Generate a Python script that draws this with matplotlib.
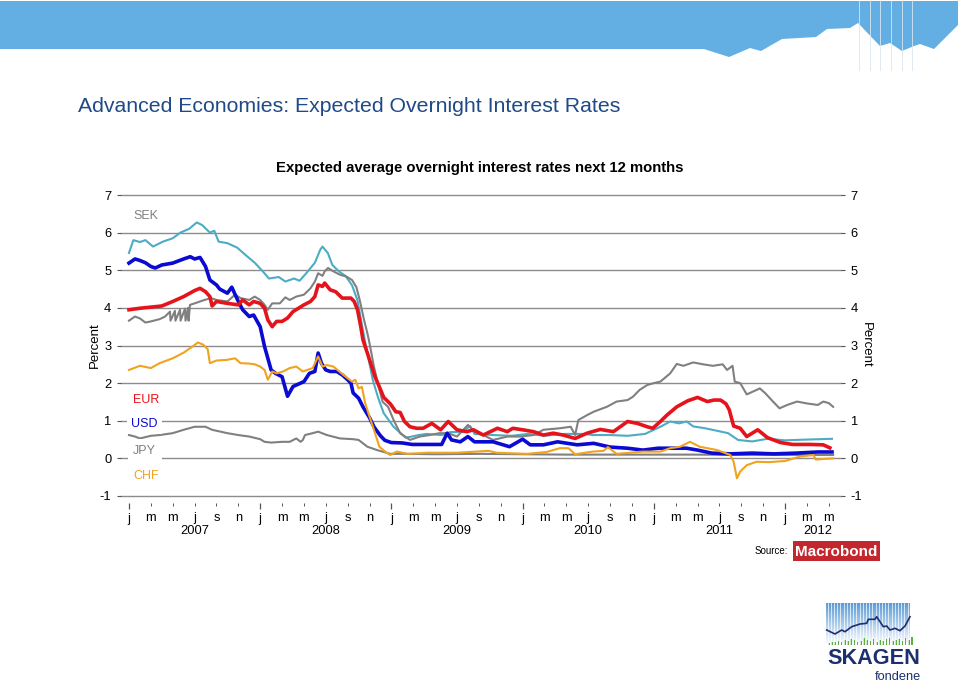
import numpy as np
import matplotlib
import matplotlib.pyplot as plt
from matplotlib.patches import Polygon, Rectangle
from matplotlib.colors import LinearSegmentedColormap

plt.rcParams['font.family'] = ['Liberation Sans', 'DejaVu Sans']
plt.rcParams['axes.unicode_minus'] = False

# x values are months since Jan 2007
sek_m = [0, 0.55, 1.0, 1.5, 2.0, 2.8, 3.3, 3.75, 3.8, 4.2, 4.25, 4.67, 4.72, 5.12, 5.17, 5.4, 5.45,
         5.58, 6.0, 6.9, 7.5, 8.0, 9.0, 9.7, 10.2, 11.0, 11.5, 12.0, 12.4, 12.7, 13.1, 13.8, 14.3,
         14.7, 15.3, 16.0, 16.6, 17.0, 17.3, 17.7, 17.9, 18.2, 18.7, 19.3, 19.9, 20.4, 20.8, 21.1,
         21.5, 21.8, 22.0, 22.4, 22.8, 23.2, 23.7, 24.2, 24.8, 25.7, 26.6, 27.5, 28.4, 29.2, 30.0,
         31.0, 31.6, 32.4, 33.3, 34.6, 35.8, 37.0, 37.9, 39.4, 40.4, 40.8, 41.1, 41.9, 42.5, 43.7,
         44.6, 45.6, 46.1, 46.7, 47.4, 48.0, 48.6, 49.5, 50.1, 50.7, 51.6, 52.5, 53.4, 54.3, 54.7,
         55.2, 55.4, 55.9, 56.5, 57.1, 57.7, 58.2, 58.9, 59.5, 60.2, 61.1, 62.0, 63.0, 63.5, 64.0, 64.4]
sek_v = [3.66, 3.77, 3.72, 3.61, 3.64, 3.70, 3.77, 3.90, 3.66, 3.92, 3.66, 3.95, 3.66, 3.98, 3.66,
         4.00, 3.66, 4.08, 4.12, 4.21, 4.26, 4.21, 4.17, 4.35, 4.26, 4.21, 4.30, 4.21, 4.08, 3.95,
         4.12, 4.12, 4.28, 4.21, 4.30, 4.35, 4.52, 4.70, 4.92, 4.85, 4.97, 5.06, 4.97, 4.88, 4.83,
         4.74, 4.55, 4.21, 3.68, 3.33, 3.06, 2.44, 1.95, 1.50, 1.37, 1.02, 0.67, 0.49, 0.58, 0.62,
         0.67, 0.67, 0.58, 0.89, 0.71, 0.62, 0.49, 0.58, 0.58, 0.62, 0.76, 0.80, 0.84, 0.62, 1.02,
         1.15, 1.24, 1.37, 1.51, 1.55, 1.64, 1.82, 1.95, 2.00, 2.04, 2.26, 2.51, 2.46, 2.55, 2.50,
         2.46, 2.50, 2.35, 2.46, 2.04, 2.00, 1.70, 1.78, 1.86, 1.73, 1.51, 1.33, 1.42, 1.51, 1.46,
         1.42, 1.51, 1.47, 1.37]

gbp_m = [0, 0.4, 1.0, 1.5, 2.2, 3.1, 4.0, 4.7, 5.5, 6.2, 6.7, 7.4, 7.8, 8.2, 9.0, 9.9, 10.8, 11.5,
         12.3, 12.8, 13.7, 14.3, 15.1, 15.6, 16.3, 17.0, 17.5, 17.7, 18.2, 18.6, 19.2, 19.8, 20.4,
         20.9, 21.4, 21.8, 22.3, 22.8, 23.3, 23.8, 24.2, 25.3, 25.7, 26.5, 27.2, 28.6, 29.4, 30.5,
         31.2, 31.6, 33.3, 35.0, 36.5, 38.0, 39.8, 41.7, 42.4, 44.0, 45.6, 47.2, 48.6, 49.5, 50.3,
         51.0, 51.6, 52.7, 54.0, 54.8, 55.7, 57.0, 58.4, 60.0, 62.0, 64.3]
gbp_v = [5.46, 5.80, 5.75, 5.80, 5.63, 5.76, 5.85, 6.00, 6.10, 6.27, 6.20, 6.00, 6.05, 5.76, 5.72,
         5.60, 5.37, 5.20, 4.95, 4.78, 4.82, 4.70, 4.78, 4.72, 4.95, 5.20, 5.55, 5.63, 5.45, 5.14,
         4.97, 4.85, 4.60, 4.20, 3.40, 2.80, 2.08, 1.60, 1.20, 1.00, 0.84, 0.55, 0.57, 0.62, 0.65,
         0.62, 0.70, 0.70, 0.86, 0.65, 0.62, 0.60, 0.65, 0.60, 0.65, 0.65, 0.62, 0.62, 0.60, 0.65,
         0.84, 0.98, 0.93, 0.98, 0.85, 0.80, 0.72, 0.67, 0.49, 0.45, 0.52, 0.48, 0.50, 0.52]

jpy_m = [0, 0.55, 1.0, 2.0, 2.8, 4.0, 5.0, 6.0, 7.0, 7.6, 9.0, 10.0, 11.0, 12.0, 12.4, 13.0, 14.0,
         14.7, 15.3, 15.7, 15.9, 16.1, 16.8, 17.3, 18.1, 19.3, 20.5, 21.0, 21.8, 22.7, 23.9, 25.4,
         28.0, 32.0, 36.0, 40.0, 44.0, 48.0, 52.0, 56.0, 60.0, 64.4]
jpy_v = [0.62, 0.58, 0.53, 0.60, 0.62, 0.67, 0.76, 0.84, 0.84, 0.76, 0.67, 0.62, 0.58, 0.51, 0.44,
         0.42, 0.44, 0.44, 0.53, 0.44, 0.49, 0.62, 0.67, 0.71, 0.62, 0.53, 0.51, 0.49, 0.31, 0.22,
         0.12, 0.12, 0.11, 0.12, 0.11, 0.10, 0.10, 0.10, 0.10, 0.09, 0.09, 0.09]

usd_m = [0, 0.55, 1.0, 1.5, 2.0, 2.4, 3.0, 4.0, 5.0, 5.6, 6.0, 6.5, 7.0, 7.4, 8.0, 8.3, 9.0, 9.4,
         10.0, 10.4, 11.0, 11.4, 12.0, 12.4, 13.0, 13.4, 14.0, 14.5, 15.0, 16.0, 16.5, 17.0, 17.3,
         17.6, 18.0, 18.4, 19.0, 19.5, 20.0, 20.3, 20.5, 21.0, 21.4, 22.0, 22.4, 23.0, 23.4, 24.0,
         25.0, 25.9, 27.4, 28.6, 29.1, 29.5, 30.3, 31.0, 31.6, 33.3, 34.8, 36.0, 36.7, 37.9, 39.2,
         40.1, 41.0, 42.5, 44.0, 45.6, 47.0, 48.4, 49.0, 51.0, 52.0, 53.3, 55.0, 57.0, 59.0, 61.0,
         63.0, 64.3]
usd_v = [5.19, 5.30, 5.26, 5.20, 5.10, 5.06, 5.14, 5.19, 5.30, 5.36, 5.30, 5.34, 5.10, 4.74, 4.61,
         4.50, 4.39, 4.55, 4.17, 3.95, 3.77, 3.81, 3.50, 2.97, 2.35, 2.26, 2.17, 1.65, 1.91, 2.04,
         2.26, 2.31, 2.80, 2.53, 2.35, 2.31, 2.31, 2.22, 2.09, 2.00, 1.74, 1.60, 1.37, 1.08, 0.84,
         0.60, 0.48, 0.42, 0.41, 0.37, 0.37, 0.37, 0.67, 0.49, 0.44, 0.58, 0.44, 0.44, 0.31, 0.51,
         0.36, 0.36, 0.44, 0.40, 0.36, 0.40, 0.30, 0.27, 0.22, 0.27, 0.27, 0.27, 0.22, 0.14, 0.12,
         0.14, 0.12, 0.14, 0.17, 0.17]

chf_m = [0, 1.0, 2.0, 2.8, 4.0, 5.0, 5.8, 6.3, 6.8, 7.2, 7.4, 8.0, 9.0, 9.7, 10.2, 11.0, 11.5, 12.0,
         12.4, 12.7, 13.1, 13.5, 14.1, 14.7, 15.3, 15.9, 16.8, 17.3, 17.7, 18.1, 18.7, 19.6, 20.4,
         20.7, 21.0, 21.3, 21.6, 22.0, 22.5, 22.9, 23.6, 23.9, 24.5, 25.5, 27.3, 30.0, 32.9, 33.6,
         36.4, 38.2, 39.4, 40.2, 40.8, 42.4, 43.4, 43.8, 44.6, 47.0, 48.6, 49.5, 50.4, 51.3, 52.2,
         53.8, 55.0, 55.3, 55.6, 55.9, 56.5, 57.4, 58.5, 60.0, 61.4, 62.6, 62.8, 64.4]
chf_v = [2.35, 2.46, 2.40, 2.53, 2.66, 2.81, 2.97, 3.08, 3.02, 2.90, 2.53, 2.60, 2.62, 2.66, 2.53,
         2.52, 2.50, 2.44, 2.35, 2.09, 2.31, 2.26, 2.31, 2.40, 2.44, 2.31, 2.40, 2.71, 2.44, 2.48,
         2.44, 2.22, 2.04, 2.09, 1.86, 1.90, 1.47, 1.11, 0.67, 0.31, 0.14, 0.09, 0.18, 0.12, 0.15,
         0.15, 0.20, 0.15, 0.12, 0.17, 0.27, 0.27, 0.11, 0.18, 0.20, 0.30, 0.12, 0.18, 0.18, 0.27,
         0.31, 0.44, 0.31, 0.22, 0.09, -0.09, -0.53, -0.35, -0.18, -0.09, -0.10, -0.07, 0.05, 0.09,
         -0.03, 0.00]

eur_m = [0, 1.0, 2.0, 3.0, 4.0, 5.0, 6.0, 6.5, 7.0, 7.4, 7.6, 8.0, 9.0, 10.0, 10.4, 11.0, 11.4,
         12.0, 12.4, 12.7, 13.1, 13.5, 14.0, 14.5, 15.0, 16.0, 16.6, 17.0, 17.3, 17.7, 17.9, 18.4,
         18.9, 19.5, 20.3, 20.6, 20.9, 21.2, 21.4, 21.8, 22.1, 22.5, 22.9, 23.3, 23.9, 24.4, 24.8,
         25.2, 25.7, 26.3, 26.9, 27.7, 28.5, 29.2, 30.0, 30.9, 31.5, 32.4, 33.7, 34.6, 35.1, 36.0,
         37.0, 37.9, 38.8, 39.7, 40.8, 41.9, 43.1, 44.3, 45.6, 46.5, 47.4, 47.9, 48.6, 49.2, 50.1,
         51.1, 52.0, 52.9, 53.5, 54.1, 54.6, 54.9, 55.3, 55.9, 56.5, 57.5, 58.4, 59.6, 60.7, 62.3,
         63.5, 64.1]
eur_v = [3.95, 3.99, 4.02, 4.05, 4.17, 4.30, 4.46, 4.52, 4.43, 4.30, 4.05, 4.17, 4.12, 4.08, 4.21,
         4.08, 4.17, 4.12, 3.99, 3.68, 3.50, 3.64, 3.64, 3.73, 3.90, 4.08, 4.17, 4.30, 4.61, 4.57,
         4.66, 4.48, 4.43, 4.26, 4.26, 4.17, 3.95, 3.50, 3.15, 2.80, 2.53, 2.17, 1.90, 1.62, 1.45,
         1.24, 1.22, 0.98, 0.84, 0.80, 0.80, 0.93, 0.76, 0.98, 0.76, 0.71, 0.76, 0.62, 0.80, 0.71,
         0.80, 0.76, 0.71, 0.62, 0.67, 0.62, 0.53, 0.67, 0.77, 0.71, 0.98, 0.93, 0.84, 0.80, 0.98,
         1.15, 1.37, 1.53, 1.62, 1.51, 1.55, 1.55, 1.45, 1.29, 0.86, 0.80, 0.58, 0.76, 0.55, 0.42,
         0.37, 0.37, 0.36, 0.28]

month_letters = ['j', 'm', 'm', 'j', 's', 'n']
years = ['2007', '2008', '2009', '2010', '2011', '2012']
year_centre_m = [6, 18, 30, 42, 54, 63]

W, H = 960, 686
fig = plt.figure(figsize=(W / 100, H / 100), dpi=100)

# background: banner, titles, source box
bg = fig.add_axes([0, 0, 1, 1])
bg.set_xlim(0, W)
bg.set_ylim(H, 0)
bg.axis('off')
banner = [(0, 1), (958, 1), (958, 25), (934, 49), (920, 44), (914, 46), (902, 51), (890, 43),
          (880, 46), (858, 23), (850, 28), (827, 29), (816, 37), (782, 39), (761, 51), (750, 48),
          (729, 57), (704, 49), (0, 49)]
bg.add_patch(Polygon(banner, closed=True, facecolor='#63AEE2', edgecolor='none'))
for xv in [859, 870, 880, 891, 902, 912]:
    bg.plot([xv, xv], [1, 70], color='#D8E6F2', lw=0.6)

bg.text(78, 106, 'Advanced Economies: Expected Overnight Interest Rates', fontsize=15.3,
        color='#1F4A87', ha='left', va='center')
bg.text(480, 168, 'Expected average overnight interest rates next 12 months', fontsize=10.7,
        fontweight='bold', ha='center', va='center')
bg.text(95, 345, 'Percent', fontsize=9.5, rotation=90, ha='center', va='center')
bg.text(866, 345, 'Percent', fontsize=9.5, rotation=270, ha='center', va='center')
bg.text(788, 551, 'Source:', fontsize=7, ha='right', va='center')
bg.add_patch(Rectangle((793, 541), 87, 20, facecolor='#C1272D', edgecolor='none'))
bg.text(836.5, 551.5, 'Macrobond', fontsize=11, fontweight='bold', color='white',
        ha='center', va='center')

# main chart
ax = fig.add_axes([121 / W, 1 - 496 / H, 720 / W, 301 / H])
ax.plot(gbp_m, gbp_v, color='#4DACC4', lw=1.5, zorder=3)
ax.plot(sek_m, sek_v, color='#808080', lw=1.5, zorder=4)
ax.plot(jpy_m, jpy_v, color='#808080', lw=1.5, zorder=4)
ax.plot(usd_m, usd_v, color='#0A0AD2', lw=2.6, zorder=5)
ax.plot(chf_m, chf_v, color='#F0A31E', lw=1.5, zorder=6)
ax.plot(eur_m, eur_v, color='#E5141C', lw=2.6, zorder=7)

ax.set_xlim(-0.73, 65.12)
ax.set_ylim(-1, 7)
ax.set_yticks(range(-1, 8))
ax.yaxis.grid(True, color='#8C8C8C', lw=1.0)
for gl in ax.get_ygridlines():
    gl.set_clip_on(False)
ax.set_axisbelow(True)
for s in ax.spines.values():
    s.set_visible(False)
ax.spines['bottom'].set_position(('outward', 5))
ax.tick_params(axis='y', left=True, right=True, labelleft=True, labelright=True,
               length=3, width=0.8, color='#555555', labelsize=9.3, pad=4)

major = [m for m in range(0, 65, 12)]
minor = [m for m in range(0, 65, 2) if m % 12 != 0]
ax.set_xticks(major)
ax.set_xticklabels(['j'] * len(major))
ax.set_xticks(minor, minor=True)
ax.set_xticklabels([month_letters[(m % 12) // 2] for m in minor], minor=True)
ax.tick_params(axis='x', which='major', length=4, width=0.9, color='#555555', labelsize=9.3, pad=3)
ax.tick_params(axis='x', which='minor', length=2, width=0.7, color='#555555', labelsize=9.3, pad=4.5)

for yr, m in zip(years, year_centre_m):
    ax.text(m, -0.115, yr, transform=ax.get_xaxis_transform(), fontsize=9.3,
            ha='center', va='center')

label_box = dict(facecolor='white', edgecolor='none', pad=1.5)
ax.text(0.37, 6.45, 'SEK', color='#808080', fontsize=9, va='center', bbox=label_box, zorder=8)
ax.text(0.37, 1.55, 'EUR', color='#E5141C', fontsize=9, va='center', bbox=label_box, zorder=8)
ax.text(0.2, 0.92, 'USD', color='#0A0AD2', fontsize=9, va='center',
        bbox=dict(facecolor='white', edgecolor='none', pad=3), zorder=8)
ax.text(0.37, 0.2, 'JPY', color='#808080', fontsize=9, va='center',
        bbox=dict(facecolor='white', edgecolor='none', pad=4), zorder=8)
ax.text(0.37, -0.47, 'CHF', color='#F0A31E', fontsize=9, va='center', bbox=label_box, zorder=8)

# SKAGEN logo
lg = fig.add_axes([820 / W, 0, 110 / W, 88 / H])
cmap = LinearSegmentedColormap.from_list('sk', ['#5C9BD6', '#FFFFFF'])
lg.imshow(np.linspace(0, 1, 60)[:, None], extent=(826, 910, 645, 603), cmap=cmap,
          aspect='auto', origin='upper')
for xv in np.arange(827.5, 910, 3.2):
    lg.plot([xv, xv], [603, 645], color='white', lw=0.5)
green_h = [2, 3, 3, 4, 3, 5, 4, 6, 5, 3, 4, 7, 5, 4, 6, 3, 5, 4, 6, 7, 4, 5, 6, 4, 7, 5, 8]
for i, h in enumerate(green_h):
    x0 = 828 + i * 3.2
    lg.add_patch(Rectangle((x0, 645 - h), 1.6, h, facecolor='#5BAE3F', edgecolor='none'))
logo_x = [826.7, 835, 841.7, 845, 851.7, 860, 866.7, 868.3, 875, 876.7, 883.3, 886.7, 890, 895,
          900, 905, 910]
logo_y = [630, 634, 630, 631.7, 626.7, 624, 623.3, 619.3, 619.3, 616.7, 626.7, 626, 630, 628.3,
          630.7, 626, 616.7]
lg.plot(logo_x, logo_y, color='#1D2F6F', lw=1.2)
lg.text(873.5, 659, 'SKAGEN', fontsize=15.6, fontweight='bold', color='#1D2F6F',
        ha='center', va='center')
lg.text(898, 677, 'fondene', fontsize=9.2, color='#1D2F6F', ha='center', va='center')
lg.set_xlim(820, 930)
lg.set_ylim(686, 598)
lg.axis('off')

fig.savefig('out.png', dpi=100)
